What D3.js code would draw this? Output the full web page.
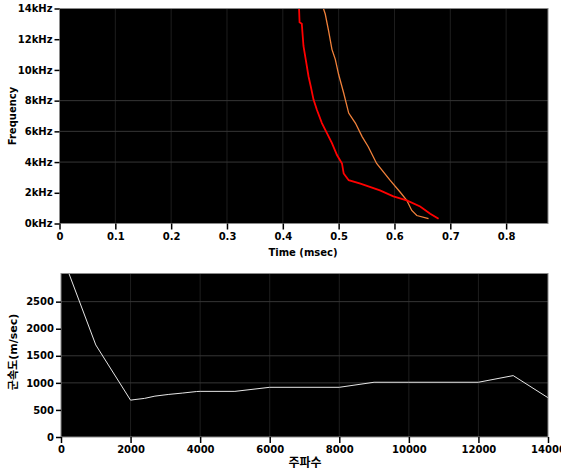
<!DOCTYPE html>
<html lang="ko">
<head>
<meta charset="utf-8">
<title>dispersion</title>
<script src="https://cdn.jsdelivr.net/npm/d3@7/dist/d3.min.js"></script>
<style>
  body { margin: 0; background: #fff; }
  text { font-family: "DejaVu Sans", "Noto Sans CJK KR", sans-serif; font-weight: bold; fill: #000; }
</style>
</head>
<body>
<svg width="561" height="470"></svg>
<script>
// top chart: time (msec) vs frequency (Hz)
var timeTicks = [0, 0.1, 0.2, 0.3, 0.4, 0.5, 0.6, 0.7, 0.8];
var freqTicks = [0, 2000, 4000, 6000, 8000, 10000, 12000, 14000];
var freqGrid = [4000, 6000, 8000];
var redTime = [0.429, 0.430, 0.434, 0.437, 0.442, 0.446, 0.450, 0.455, 0.461, 0.470, 0.479, 0.488, 0.497, 0.506, 0.509, 0.518, 0.539, 0.574, 0.598, 0.622, 0.646, 0.664, 0.679];
var redFreq = [14080, 13100, 13000, 11560, 10470, 9590, 8940, 8070, 7410, 6540, 5880, 5230, 4460, 3910, 3260, 2820, 2600, 2160, 1770, 1510, 1110, 640, 310];
var orangeTime = [0.472, 0.476, 0.482, 0.488, 0.494, 0.500, 0.509, 0.518, 0.530, 0.542, 0.553, 0.568, 0.592, 0.610, 0.622, 0.631, 0.640, 0.661];
var orangeFreq = [14080, 13640, 12540, 11340, 10690, 9700, 8500, 7190, 6540, 5660, 5000, 3910, 2820, 2050, 1510, 850, 520, 310];

// bottom chart: frequency (Hz) vs group velocity (m/sec)
var hzTicks = [0, 2000, 4000, 6000, 8000, 10000, 12000, 14000];
var velTicks = [0, 500, 1000, 1500, 2000, 2500];
var velGrid = [1000, 1500, 2500];
var velFreq = [0, 1000, 2000, 2100, 2400, 2700, 3100, 3500, 3900, 4000, 5000, 6000, 8000, 9000, 10000, 12000, 13000, 14000];
var velValue = [3410, 1700, 680, 690, 713, 755, 787, 812, 840, 843, 843, 918, 918, 1011, 1011, 1011, 1134, 725];

var svg = d3.select("svg");

function frame(x0, x1, y0, y1, id) {
    svg.append("rect").attr("x", x0).attr("y", y0).attr("width", x1 - x0).attr("height", y1 - y0).attr("fill", "#000");
    svg.append("clipPath").attr("id", id).append("rect")
        .attr("x", x0).attr("y", y0).attr("width", x1 - x0).attr("height", y1 - y0);
}

function outline(x0, x1, y0, y1) {
    svg.append("rect").attr("x", x0).attr("y", y0).attr("width", x1 - x0).attr("height", y1 - y0)
        .attr("fill", "none").attr("stroke", "#8a8a8a").attr("stroke-width", 1);
}

function styleAxis(g) {
    g.select(".domain").remove();
    g.selectAll(".tick line").attr("stroke", "#000").attr("stroke-width", 1.5);
    g.selectAll(".tick text").style("font-size", "10px");
}

// ---- top chart ----
var x1 = d3.scaleLinear().domain([0, 0.875]).range([59.5, 548]);
var y1 = d3.scaleLinear().domain([0, 14000]).range([223.5, 8.5]);
frame(59.5, 548, 8.5, 223.5, "clipTop");

svg.append("g").selectAll("line").data(timeTicks.slice(1)).enter().append("line")
    .attr("x1", function (d) { return x1(d); }).attr("x2", function (d) { return x1(d); })
    .attr("y1", 8.5).attr("y2", 223.5).attr("stroke", "#1e1e1e");
svg.append("g").selectAll("line").data(freqGrid).enter().append("line")
    .attr("x1", 59.5).attr("x2", 548)
    .attr("y1", function (d) { return y1(d); }).attr("y2", function (d) { return y1(d); })
    .attr("stroke", "#363636");

var lineTop = d3.line().x(function (d) { return x1(d[0]); }).y(function (d) { return y1(d[1]); });
svg.append("path").datum(d3.zip(orangeTime, orangeFreq)).attr("d", lineTop)
    .attr("fill", "none").attr("stroke", "#f0803a").attr("stroke-width", 1.3)
    .attr("clip-path", "url(#clipTop)");
svg.append("path").datum(d3.zip(redTime, redFreq)).attr("d", lineTop)
    .attr("fill", "none").attr("stroke", "#ff0000").attr("stroke-width", 1.8)
    .attr("clip-path", "url(#clipTop)");
outline(59.5, 548, 8.5, 223.5);

svg.append("g").attr("transform", "translate(59.5,0)")
    .call(d3.axisLeft(y1).tickValues(freqTicks).tickSize(5).tickPadding(2)
        .tickFormat(function (d) { return (d / 1000) + "kHz"; }))
    .call(styleAxis);
svg.append("g").attr("transform", "translate(0,223.5)")
    .call(d3.axisBottom(x1).tickValues(timeTicks).tickSize(6).tickPadding(3)
        .tickFormat(function (d) { return d === 0 ? "0" : d3.format(".1f")(d); }))
    .call(styleAxis);

svg.append("text").attr("x", 303).attr("y", 256).attr("text-anchor", "middle")
    .style("font-size", "10px").text("Time (msec)");
svg.append("text").attr("transform", "translate(16,116) rotate(-90)").attr("text-anchor", "middle")
    .style("font-size", "10px").text("Frequency");

// ---- bottom chart ----
var x2 = d3.scaleLinear().domain([0, 14000]).range([61, 548]);
var y2 = d3.scaleLinear().domain([0, 3020]).range([437, 273.5]);
frame(61, 548, 273.5, 437, "clipBottom");

svg.append("g").selectAll("line").data(hzTicks.slice(1, -1)).enter().append("line")
    .attr("x1", function (d) { return x2(d); }).attr("x2", function (d) { return x2(d); })
    .attr("y1", 273.5).attr("y2", 437).attr("stroke", "#1e1e1e");
svg.append("g").selectAll("line").data(velGrid).enter().append("line")
    .attr("x1", 61).attr("x2", 548)
    .attr("y1", function (d) { return y2(d); }).attr("y2", function (d) { return y2(d); })
    .attr("stroke", "#363636");

var lineBottom = d3.line().x(function (d) { return x2(d[0]); }).y(function (d) { return y2(d[1]); });
svg.append("path").datum(d3.zip(velFreq, velValue)).attr("d", lineBottom)
    .attr("fill", "none").attr("stroke", "#e6e6e6").attr("stroke-width", 1)
    .attr("clip-path", "url(#clipBottom)");
outline(61, 548, 273.5, 437);

svg.append("g").attr("transform", "translate(61,0)")
    .call(d3.axisLeft(y2).tickValues(velTicks).tickSize(5).tickPadding(2).tickFormat(d3.format("d")))
    .call(styleAxis);
svg.append("g").attr("transform", "translate(0,437)")
    .call(d3.axisBottom(x2).tickValues(hzTicks).tickSize(6).tickPadding(3).tickFormat(d3.format("d")))
    .call(styleAxis);

svg.append("text").attr("x", 305).attr("y", 467).attr("text-anchor", "middle")
    .style("font-size", "12px").text("주파수");
svg.append("text").attr("transform", "translate(17,352) rotate(-90)").attr("text-anchor", "middle")
    .style("font-size", "11px").text("군속도(m/sec)");
</script>
</body>
</html>
